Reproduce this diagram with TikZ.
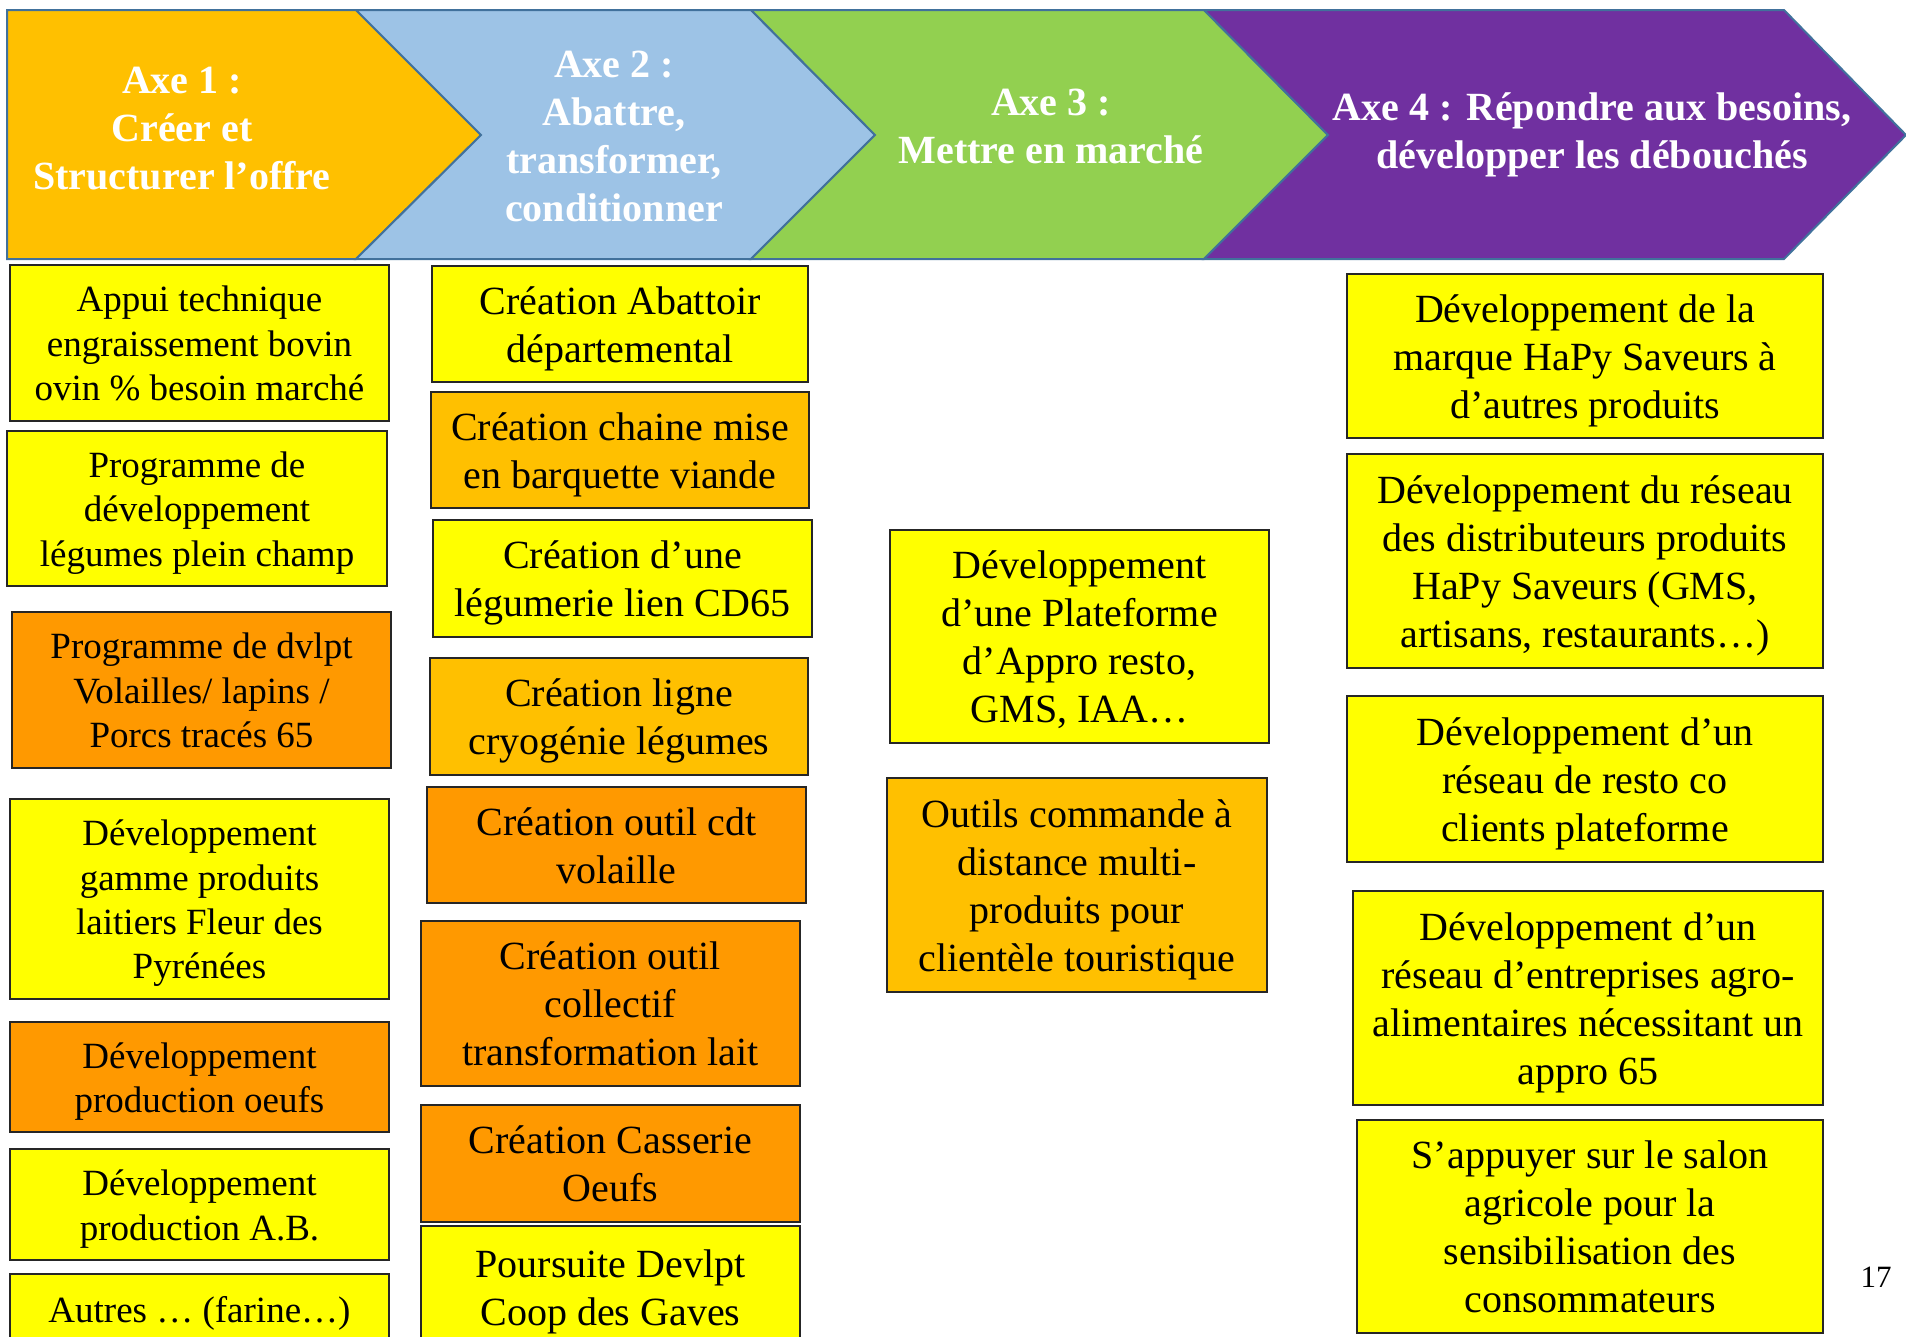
\documentclass[tikz,border=0pt]{standalone}
\usepackage{fontspec}
\setmainfont{Liberation Serif}
\definecolor{jaune}{HTML}{FFFF00}
\definecolor{orng}{HTML}{FF9900}
\definecolor{ambre}{HTML}{FFC000}
\definecolor{axa}{HTML}{FFC000}
\definecolor{axb}{HTML}{9DC3E6}
\definecolor{axc}{HTML}{92D050}
\definecolor{axd}{HTML}{7030A0}
\definecolor{bordax}{HTML}{41719C}
\newcommand\grand{\rule[-9.6pt]{0pt}{48pt}}
\newcommand\petit{\rule[-8.9pt]{0pt}{44.4pt}}
\tikzset{%
    che/.style={draw=bordax, line width=2pt, line join=miter},
    ent/.style={text=white, align=center, inner sep=0pt, font=\bfseries\fontsize{40}{48}\selectfont},
    bo/.style={draw=black!85, line width=2pt, inner sep=0pt, text width=370pt, align=flush center,
        font=\fontsize{40}{48}\selectfont, execute at begin node=\grand, execute at end node=\grand},
    boa/.style={draw=black!85, line width=2pt, inner sep=0pt, text width=370pt, align=flush center,
        font=\fontsize{37}{44.4}\selectfont, execute at begin node=\petit, execute at end node=\petit},
    bod/.style={bo, text width=460pt},
}
\begin{document}
\begin{tikzpicture}[x=1pt,y=-1pt]
    \clip (0,0) rectangle (1906,1336);
    \fill[white] (0,0) rectangle (1906,1336);
    \draw[che, fill=axa] (7,10) -- (356,10) -- (481,135) -- (356,259) -- (7,259) -- cycle;
    \draw[che, fill=axb] (356,10) -- (751,10) -- (875,135) -- (751,259) -- (356,259) -- (481,135) -- cycle;
    \draw[che, fill=axc] (751,10) -- (1204,10) -- (1328,135) -- (1204,259) -- (751,259) -- (875,135) -- cycle;
    \draw[che, fill=axd] (1204,10) -- (1784,10) -- (1906,135) -- (1784,259) -- (1204,259) -- (1328,135) -- cycle;
    \node[ent] (ax1) at (182,129) {Axe 1 :\\ Créer et\\ Structurer l’offre};
    \node[ent] (ax2) at (614,136) {Axe 2 :\\ Abattre,\\ transformer,\\ conditionner};
    \node[ent] (ax3) at (1051,126) {Axe 3 :\\ Mettre en marché};
    \node[ent] (ax4) at (1592,135) {Axe 4 : Répondre aux besoins,\\ développer les débouchés};
    \node[boa, fill=jaune, minimum width=379pt, minimum height=156pt] (a1) at (199.5,343) {Appui technique\\ engraissement bovin\\ ovin \% besoin marché};
    \node[boa, fill=jaune, minimum width=380pt, minimum height=155pt] (a2) at (197,508.5) {Programme de\\ développement\\ légumes plein champ};
    \node[boa, fill=orng, minimum width=379pt, minimum height=156pt] (a3) at (201.5,690) {Programme de dvlpt\\ Volailles/ lapins /\\ Porcs tracés 65};
    \node[boa, fill=jaune, minimum width=379pt, minimum height=200pt] (a4) at (199.5,899) {Développement\\ gamme produits\\ laitiers Fleur des\\ Pyrénées};
    \node[boa, fill=orng, minimum width=379pt, minimum height=110pt] (a5) at (199.5,1077) {Développement\\ production oeufs};
    \node[boa, fill=jaune, minimum width=379pt, minimum height=111pt] (a6) at (199.5,1204.5) {Développement\\ production A.B.};
    \node[boa, fill=jaune, minimum width=379pt, minimum height=70pt] (a7) at (199.5,1309) {Autres … (farine…)};
    \node[bo, fill=jaune, minimum width=376pt, minimum height=116pt] (b1) at (620,324) {Création Abattoir\\ départemental};
    \node[bo, fill=ambre, minimum width=378pt, minimum height=116pt] (b2) at (620,450) {Création chaine mise\\ en barquette viande};
    \node[bo, fill=jaune, minimum width=379pt, minimum height=117pt] (b3) at (622.5,578.5) {Création d’une\\ légumerie lien CD65};
    \node[bo, fill=ambre, minimum width=378pt, minimum height=117pt] (b4) at (619,716.5) {Création ligne\\ cryogénie légumes};
    \node[bo, fill=orng, minimum width=379pt, minimum height=116pt] (b5) at (616.5,845) {Création outil cdt\\ volaille};
    \node[bo, fill=orng, minimum width=379pt, minimum height=165pt] (b6) at (610.5,1003.5) {Création outil\\ collectif\\ transformation lait};
    \node[bo, fill=orng, minimum width=379pt, minimum height=117pt] (b7) at (610.5,1163.5) {Création Casserie\\ Oeufs};
    \node[bo, fill=jaune, minimum width=379pt, minimum height=122pt] (b8) at (610.5,1287) {Poursuite Devlpt\\ Coop des Gaves};
    \node[bo, fill=jaune, minimum width=379pt, minimum height=213pt] (c1) at (1079.5,636.5) {Développement\\ d’une Plateforme\\ d’Appro resto,\\ GMS, IAA…};
    \node[bo, fill=ambre, minimum width=380pt, minimum height=214pt] (c2) at (1077,885) {Outils commande à\\ distance multi-\\ produits pour\\ clientèle touristique};
    \node[bod, fill=jaune, minimum width=476pt, minimum height=164pt] (d1) at (1585,356) {Développement de la\\ marque HaPy Saveurs à\\ d’autres produits};
    \node[bod, fill=jaune, minimum width=476pt, minimum height=214pt] (d2) at (1585,561) {Développement du réseau\\ des distributeurs produits\\ HaPy Saveurs (GMS,\\ artisans, restaurants…)};
    \node[bod, fill=jaune, minimum width=476pt, minimum height=166pt] (d3) at (1585,779) {Développement d’un\\ réseau de resto co\\ clients plateforme};
    \node[bod, fill=jaune, minimum width=470pt, minimum height=214pt] (d4) at (1588,998) {Développement d’un\\ réseau d’entreprises agro-\\ alimentaires nécessitant un\\ appro 65};
    \node[bod, fill=jaune, minimum width=466pt, minimum height=213pt] (d5) at (1590,1226.5) {S’appuyer sur le salon\\ agricole pour la\\ sensibilisation des\\ consommateurs};
    \node[font=\fontsize{31}{37}\selectfont, inner sep=0pt] (num) at (1876,1277) {17};
\end{tikzpicture}
\end{document}
